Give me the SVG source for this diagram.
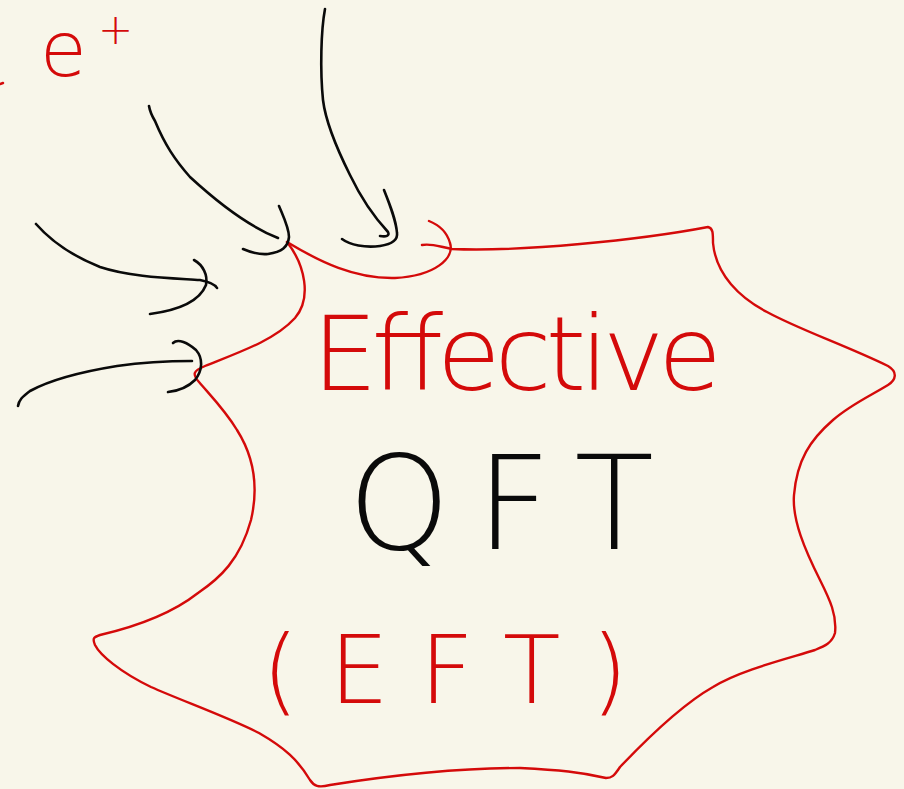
<svg xmlns="http://www.w3.org/2000/svg" width="904" height="789" viewBox="0 0 904 789">
<style>
.red{fill:none;stroke:#d40a0a;stroke-width:2.4;stroke-linecap:round;stroke-linejoin:round}
.ink{fill:none;stroke:#0a0a0a;stroke-width:2.6;stroke-linecap:round;stroke-linejoin:round}
.t{font-family:"DejaVu Sans","Liberation Sans",sans-serif;font-weight:200}
.tr{fill:#d40a0a}
.tk{fill:#0a0a0a}
</style>
<rect width="904" height="789" fill="#f8f6ea"/>
<g id="eft-blob">
<path class="red" d="M287,242 C320,262 355,279 395,278 C435,276 455,258 450,243 C447,232 439,225 429,221"/>
<path class="red" d="M422,245 C432,243 440,247 452,249 C520,252 640,240 708,227 C713,228 713,233 713,243 C716,275 740,298 767,312 C800,330 845,345 888,366 C898,372 896,380 888,385 C870,396 850,405 833,420 C810,440 797,460 794,495 C792,520 805,550 820,580 C830,600 837,615 835,633 C832,643 825,646 815,650 C790,658 740,670 713,687 C690,700 660,725 620,767 C614,776 612,778 606,778 C580,772 560,770 520,768 C470,768 400,774 330,785 C318,788 314,786 310,780 C298,760 285,748 259,733 C230,718 180,700 151,687 C120,672 100,655 95,645 C92,638 94,637 100,635 C130,628 170,615 198,593 C220,578 240,560 251,520 C258,490 256,460 237,430 C225,410 210,395 199,382 C192,374 193,371 205,366 C240,352 275,340 295,318 C312,298 305,265 287,242"/>
</g>
<g id="connectors">
<g id="arrow-top">
<path class="ink" d="M325,9 C321,30 320,70 323,100 C326,125 340,155 350,175 C362,200 375,218 388,232 C390,236 386,237 380,236"/>
<path class="ink" d="M384,190 C390,205 396,220 397,233 C398,240 393,244 380,246 C365,248 350,245 342,239"/>
</g>
<g id="arrow-2">
<path class="ink" d="M149,106 C150,112 152,116 155,121 C165,145 175,160 190,177 C215,200 245,225 278,238"/>
<path class="ink" d="M279,206 C284,218 289,228 289,237 C288,247 282,252 268,254 C258,255 250,252 243,249"/>
</g>
<g id="arrow-3">
<path class="ink" d="M36,224 C50,240 70,255 100,267 C130,277 170,278 200,280 C210,282 215,284 217,288"/>
<path class="ink" d="M194,260 C203,265 208,275 206,285 C200,300 180,310 150,314"/>
</g>
<g id="arrow-4">
<path class="ink" d="M18,406 C19,400 22,397 30,391 C50,380 80,372 117,366 C145,362 170,361 192,361"/>
<path class="ink" d="M173,343 C178,338 188,343 196,350 C203,358 203,370 195,380 C188,387 178,391 168,392"/>
</g>
</g>
<g id="label-positron">
<text class="t tr" x="40" y="76" font-size="76">e</text>
<text class="t tr" x="98" y="44" font-size="42">+</text>
<path class="red" d="M0,84 L3,83"/>
</g>
<g id="label-effective">
<text class="t tr" x="312" y="390" font-size="104" textLength="410" lengthAdjust="spacing">Effective</text>
</g>
<g id="label-qft">
<text class="t tk" x="348" y="549" font-size="130" textLength="306" lengthAdjust="spacing">QFT</text>
</g>
<g id="label-eft">
<text class="t tr" x="262" y="703" font-size="94" textLength="366" lengthAdjust="spacing">(EFT)</text>
</g>
</svg>
